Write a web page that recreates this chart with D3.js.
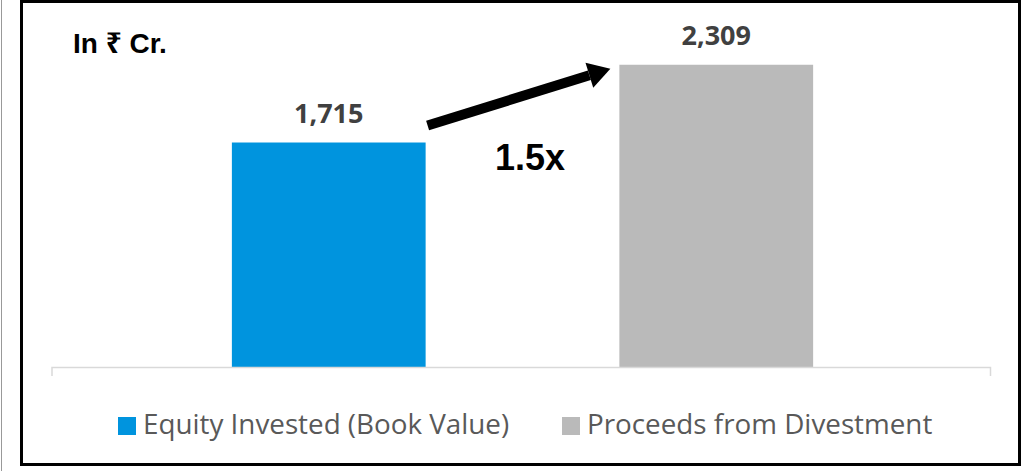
<!DOCTYPE html>
<html>
<head>
<meta charset="utf-8">
<script src="https://cdn.jsdelivr.net/npm/d3@7"></script>
<style>
  body { margin: 0; background: #fff; }
  svg { display: block; }
</style>
</head>
<body>
<svg id="chart" width="1026" height="471"></svg>
<script>
// 데이터
var categories = ["Equity Invested (Book Value)", "Proceeds from Divestment"];
var values = [1715, 2309];
var colors = ["#0094de", "#bababa"];
var unitText = "In \u20B9 Cr.";
var multipleText = "1.5x";

var svg = d3.select("#chart");

// 바깥 테두리
svg.append("line")
   .attr("x1", 1.5).attr("x2", 1.5).attr("y1", 0).attr("y2", 471)
   .attr("stroke", "#999").attr("stroke-width", 1);

svg.append("rect")
   .attr("x", 21.5).attr("y", 1.5)
   .attr("width", 998).attr("height", 463)
   .attr("fill", "#fff")
   .attr("stroke", "#000").attr("stroke-width", 3);

var baseY = 367;

var x = d3.scaleBand()
          .domain(categories)
          .range([135, 910])
          .paddingInner(0.5)
          .paddingOuter(0.25);

var y = d3.scaleLinear()
          .domain([0, 2500])
          .range([baseY, baseY - 2500 * 0.1309]);

var g = svg.append("g");

// 막대
g.selectAll(".bar")
 .data(values)
 .enter()
 .append("rect")
 .attr("class", "bar")
 .attr("x", function(d, i) { return x(categories[i]); })
 .attr("width", x.bandwidth())
 .attr("y", function(d) { return y(d); })
 .attr("height", function(d) { return y(0) - y(d); })
 .attr("fill", function(d, i) { return colors[i]; });

// x축
var axis = g.append("g")
            .attr("transform", "translate(0," + baseY + ")")
            .call(d3.axisBottom(x).tickValues([]).tickSizeOuter(9));
axis.select(".domain")
    .attr("stroke", "#d9d9d9")
    .attr("stroke-width", 1.5)
    .attr("d", "M52,9V0.5H990.5V9");

// 값 라벨
g.selectAll(".val")
 .data(values)
 .enter()
 .append("text")
 .attr("class", "val")
 .attr("x", function(d, i) { return x(categories[i]) + x.bandwidth() / 2; })
 .attr("y", function(d) { return y(d) - 20; })
 .attr("text-anchor", "middle")
 .attr("font-family", "Open Sans, sans-serif")
 .attr("font-weight", "bold")
 .attr("font-size", 27)
 .attr("fill", "#404040")
 .text(function(d) { return d3.format(",")(d); });

// 단위
svg.append("text")
   .attr("x", 73).attr("y", 53)
   .attr("font-family", "Liberation Sans, Arial, 'Noto Sans', sans-serif")
   .attr("font-weight", "bold")
   .attr("font-size", 28)
   .attr("fill", "#000")
   .text(unitText);

// 화살표
var x0 = x(categories[0]) + x.bandwidth(),
    x1 = x(categories[1]);
var start = [x0 + 2, y(values[0]) - 17],
    end = [x1 - 9, y(values[1]) + 4];
var ang = Math.atan2(end[1] - start[1], end[0] - start[0]);
var headLen = 22, headW = 13;
var bx = end[0] - headLen * Math.cos(ang), by = end[1] - headLen * Math.sin(ang);

svg.append("line")
   .attr("x1", start[0]).attr("y1", start[1])
   .attr("x2", bx).attr("y2", by)
   .attr("stroke", "#000").attr("stroke-width", 10);

svg.append("path")
   .attr("d", "M" + end[0] + "," + end[1] +
              "L" + (bx - headW * Math.sin(ang)) + "," + (by + headW * Math.cos(ang)) +
              "L" + (bx + headW * Math.sin(ang)) + "," + (by - headW * Math.cos(ang)) + "Z")
   .attr("fill", "#000");

svg.append("text")
   .attr("x", 530).attr("y", 170)
   .attr("text-anchor", "middle")
   .attr("font-family", "Liberation Sans, Arial, sans-serif")
   .attr("font-weight", "bold")
   .attr("font-size", 36)
   .attr("fill", "#000")
   .text(multipleText);

// 범례
var legendX = [118, 562];
var legend = svg.selectAll(".legend")
                .data(categories)
                .enter()
                .append("g")
                .attr("class", "legend")
                .attr("transform", function(d, i) { return "translate(" + legendX[i] + ",417)"; });

legend.append("rect")
      .attr("width", 18)
      .attr("height", 18)
      .attr("fill", function(d, i) { return colors[i]; });

legend.append("text")
      .attr("x", 25)
      .attr("y", 17)
      .attr("font-family", "Open Sans, sans-serif")
      .attr("font-size", 27.8)
      .attr("fill", "#595959")
      .text(function(d) { return d; });
</script>
</body>
</html>
